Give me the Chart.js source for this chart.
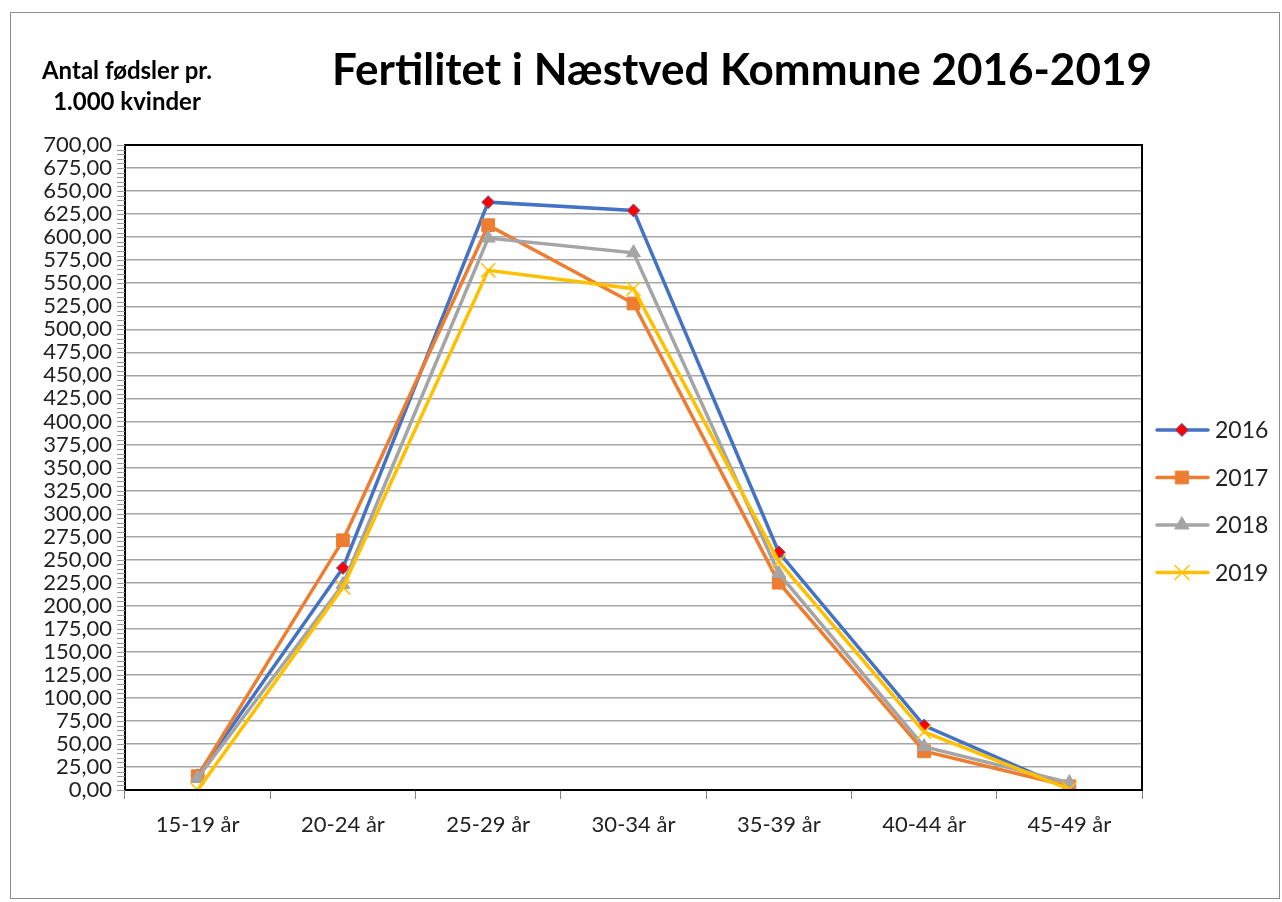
<!DOCTYPE html>
<html>
<head>
<meta charset="utf-8">
<script src="https://cdn.jsdelivr.net/npm/chart.js@4/dist/chart.umd.min.js"></script>
<style>
html,body{margin:0;padding:0;background:#fff;}
#wrap{position:relative;width:1282px;height:902px;}
</style>
</head>
<body>
<div id="wrap"><canvas id="c" width="1282" height="902"></canvas></div>
<script>
// ---- data ----
const categories = ['15-19 år', '20-24 år', '25-29 år', '30-34 år', '35-39 år', '40-44 år', '45-49 år'];
const seriesNames = ['2016', '2017', '2018', '2019'];
const values2016 = [16, 241, 638, 629, 258, 70, 1];
const values2017 = [15, 271, 613, 528, 225, 42, 4];
const values2018 = [13, 223, 599, 583, 235, 47, 8];
const values2019 = [0, 220, 564, 544, 248, 63, 1];
const yMin = 0, yMax = 700, yStep = 25, yMinorStep = 5;
const titleText = 'Fertilitet i Næstved Kommune 2016-2019';
const yCaption = ['Antal fødsler pr.', '1.000 kvinder'];

const FONT = 'Lato, "Open Sans", sans-serif';
const styles = [
  {color:'#4472C4', pointStyle:'rectRot', fill:'#FF0000', border:'#4472C4', radius:6.5, bw:1},
  {color:'#ED7D31', pointStyle:'rect', fill:'#ED7D31', border:'#ED7D31', radius:9, bw:1},
  {color:'#A5A5A5', pointStyle:'triangle', fill:'#A5A5A5', border:'#A5A5A5', radius:8, bw:1},
  {color:'#FFC000', pointStyle:'crossRot', fill:'#FFC000', border:'#FFC000', radius:10, bw:1.5}
];
const allValues = [values2016, values2017, values2018, values2019];

const datasets = seriesNames.map((n, i) => ({
  label: n,
  data: allValues[i],
  borderColor: styles[i].color,
  backgroundColor: styles[i].fill,
  borderWidth: 3.5,
  pointStyle: styles[i].pointStyle,
  pointRadius: styles[i].radius,
  pointBackgroundColor: styles[i].fill,
  pointBorderColor: styles[i].border,
  pointBorderWidth: styles[i].bw,
  tension: 0,
  order: seriesNames.length - i
}));

function drawMarker(ctx, st, x, y) {
  ctx.save();
  ctx.fillStyle = st.fill; ctx.strokeStyle = st.border; ctx.lineWidth = st.bw;
  const r = st.radius;
  ctx.beginPath();
  if (st.pointStyle === 'rectRot') {
    ctx.moveTo(x, y - r); ctx.lineTo(x + r, y); ctx.lineTo(x, y + r); ctx.lineTo(x - r, y); ctx.closePath();
    ctx.fill(); ctx.stroke();
  } else if (st.pointStyle === 'rect') {
    const s = r / Math.SQRT2;
    ctx.rect(x - s, y - s, 2 * s, 2 * s); ctx.fill(); ctx.stroke();
  } else if (st.pointStyle === 'triangle') {
    ctx.moveTo(x, y - r); ctx.lineTo(x + r * 0.87, y + r * 0.5); ctx.lineTo(x - r * 0.87, y + r * 0.5); ctx.closePath();
    ctx.fill(); ctx.stroke();
  } else if (st.pointStyle === 'crossRot') {
    const d = r * 0.707;
    ctx.moveTo(x - d, y - d); ctx.lineTo(x + d, y + d);
    ctx.moveTo(x + d, y - d); ctx.lineTo(x - d, y + d);
    ctx.stroke();
  }
  ctx.restore();
}

const decorPlugin = {
  id: 'decor',
  beforeDraw(chart) {
    const ctx = chart.ctx;
    ctx.save();
    ctx.fillStyle = '#fff';
    ctx.fillRect(0, 0, chart.width, chart.height);
    ctx.strokeStyle = '#8c8c8c';
    ctx.lineWidth = 1;
    ctx.strokeRect(10.5, 12.5, 1269, 886);
    ctx.restore();
  },
  afterDraw(chart) {
    const ctx = chart.ctx;
    const ca = chart.chartArea;
    const ys = chart.scales.y;
    ctx.save();
    // plot area border
    ctx.strokeStyle = '#000';
    ctx.lineWidth = 2;
    ctx.strokeRect(ca.left, ca.top, ca.right - ca.left, ca.bottom - ca.top);
    // minor ticks on y-axis
    ctx.strokeStyle = '#9a9a9a';
    ctx.lineWidth = 1;
    for (let v = yMin; v <= yMax; v += yMinorStep) {
      const py = Math.round(ys.getPixelForValue(v)) + 0.5;
      ctx.beginPath(); ctx.moveTo(ca.left - 8, py); ctx.lineTo(ca.left, py); ctx.stroke();
    }
    // title
    ctx.fillStyle = '#000';
    ctx.textAlign = 'center';
    ctx.textBaseline = 'middle';
    ctx.font = 'bold 44px ' + FONT;
    ctx.fillText(titleText, 742, 71);
    // y caption
    ctx.font = 'bold 24px ' + FONT;
    ctx.fillText(yCaption[0], 127, 71);
    ctx.fillText(yCaption[1], 127, 102);
    // legend
    const ly0 = 430, lgap = 47.5;
    seriesNames.forEach((n, i) => {
      const y = ly0 + i * lgap;
      ctx.strokeStyle = styles[i].color;
      ctx.lineWidth = 3.5;
      ctx.lineCap = 'round';
      ctx.beginPath(); ctx.moveTo(1157, y); ctx.lineTo(1208, y); ctx.stroke();
      drawMarker(ctx, styles[i], 1182, y);
      ctx.fillStyle = '#222';
      ctx.textAlign = 'left';
      ctx.font = '23px ' + FONT;
      ctx.fillText(n, 1215, y + 1);
    });
    ctx.restore();
  }
};

new Chart(document.getElementById('c'), {
  type: 'line',
  data: { labels: categories, datasets },
  options: {
    responsive: false,
    animation: false,
    devicePixelRatio: 1,
    layout: { padding: { left: 0, top: 145, right: 140, bottom: 42 } },
    plugins: { legend: { display: false }, tooltip: { enabled: false }, title: { display: false } },
    scales: {
      x: {
        type: 'category',
        offset: true,
        grid: { display: true, drawOnChartArea: false, drawTicks: true, tickLength: 9, color: '#7f7f7f', lineWidth: 1, offset: true },
        border: { display: true, color: '#000', width: 2 },
        ticks: { color: '#222', font: { family: FONT, size: 22 }, padding: 13, maxRotation: 0, autoSkip: false },
        afterFit(s) { s.height = 70; }
      },
      y: {
        min: yMin, max: yMax,
        grid: { color: '#a6a6a6', lineWidth: 1.5, drawTicks: false },
        border: { display: true, color: '#000', width: 2 },
        ticks: {
          stepSize: yStep, color: '#222', padding: 13, autoSkip: false,
          font: { family: FONT, size: 22 },
          callback: (v) => v.toFixed(2).replace('.', ',')
        },
        afterFit(s) { s.width = 125; }
      }
    }
  },
  plugins: [decorPlugin]
});
</script>
</body>
</html>
